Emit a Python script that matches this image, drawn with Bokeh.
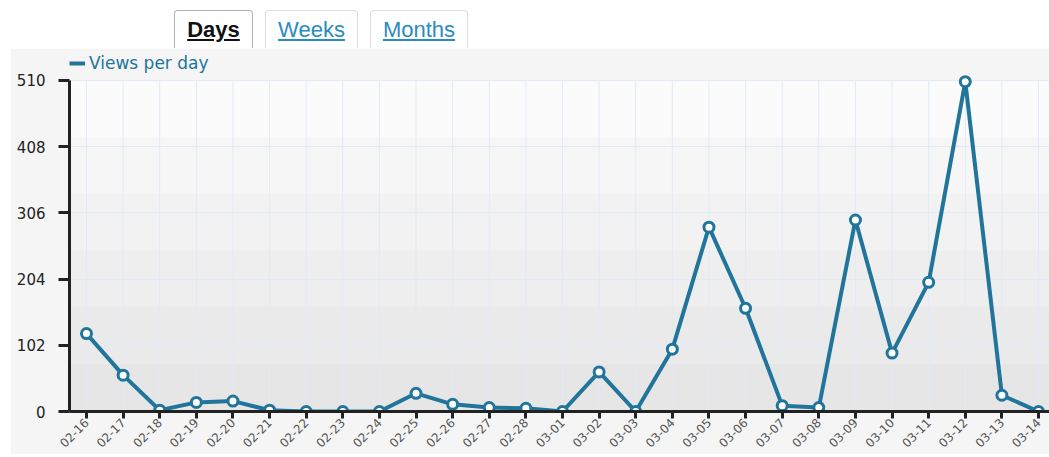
from bokeh.plotting import figure
from bokeh.layouts import column
from bokeh.models import (Div, Range1d, FixedTicker, BoxAnnotation, Legend, LegendItem,
                          ColumnDataSource)
from bokeh.embed import file_html
from bokeh.resources import INLINE
import math

# ---- data ----
dates = ["02-16", "02-17", "02-18", "02-19", "02-20", "02-21", "02-22", "02-23", "02-24",
         "02-25", "02-26", "02-27", "02-28", "03-01", "03-02", "03-03", "03-04", "03-05",
         "03-06", "03-07", "03-08", "03-09", "03-10", "03-11", "03-12", "03-13", "03-14"]
views = [120, 56, 2, 14, 16, 2, 0, 0, 0,
         28, 11, 6, 5, 0, 61, 0, 96, 284,
         159, 9, 6, 295, 90, 199, 508, 25, 0]
y_ticks = [0, 102, 204, 306, 408, 510]
series_name = "Views per day"
tabs = ["Days", "Weeks", "Months"]

BLUE = "#21759b"
PANEL = "#f5f5f5"
idx = list(range(len(dates)))
y_top = y_ticks[-1]
src = ColumnDataSource(dict(x=idx, y=views, d=dates))

# ---- tabs ----
tab_geo = [(174, 79), (265, 93), (370, 98)]
parts = []
for i, (name, (left, w)) in enumerate(zip(tabs, tab_geo)):
    active = i == 0
    parts.append(
        f'<div style="position:absolute;left:{left}px;top:10px;width:{w}px;height:38px;'
        f'box-sizing:border-box;border:1px solid {"#b0b0b0" if active else "#dedede"};'
        f'border-bottom:none;border-radius:4px 4px 0 0;background:#fff;text-align:center;'
        f'line-height:38px;font-size:22px;font-weight:{"bold" if active else "normal"};">'
        f'<span style="text-decoration:underline;color:{"#111" if active else "#2a8bbf"};">{name}</span></div>'
    )
tabs_div = Div(text='<div style="position:relative;width:1049px;height:48px;'
                    'font-family:\'Liberation Sans\',Arial,sans-serif;">' + "".join(parts) + '</div>',
               width=1049, height=48, margin=(0, 0, 0, 0))

# ---- figure ----
p = figure(width=1039, height=406, output_backend="svg", toolbar_location=None,
           x_range=Range1d(-0.464, 26.30), y_range=Range1d(0, 553),
           min_border_left=59, min_border_right=0, min_border_top=4, min_border_bottom=43,
           border_fill_color=PANEL, background_fill_color=PANEL, outline_line_color=None,
           margin=(0, 0, 0, 10))

# background bands (decoration) between 0 and the top tick
band_edges = [0, 74, 162, 248, 336, 422, y_top]
band_cols = ["#e6e6e6", "#eaeaea", "#eeeeee", "#f2f2f2", "#f6f6f6", "#fbfbfb"]
for b0, b1, c in zip(band_edges[:-1], band_edges[1:], band_cols):
    p.add_layout(BoxAnnotation(bottom=b0, top=b1, fill_color=c, fill_alpha=1,
                               line_color=None, level="image"))

# vertical grid lines, limited to the value range
p.segment(x0=idx, y0=[0] * len(idx), x1=idx, y1=[y_top] * len(idx),
          line_color="#e2eaf7", line_width=1, level="underlay")
p.xgrid.visible = False
p.ygrid.ticker = FixedTicker(ticks=y_ticks)
p.ygrid.grid_line_color = "#e2eaf7"

line_r = p.line("x", "y", source=src, line_color=BLUE, line_width=4)
p.scatter("x", "y", source=src, size=10, fill_color="white", line_color=BLUE, line_width=3)

# axes
p.xaxis.ticker = FixedTicker(ticks=idx)
p.xaxis.major_label_overrides = {i: d for i, d in enumerate(dates)}
p.xaxis.major_label_orientation = math.pi / 4
p.xaxis.major_label_text_font = "DejaVu Sans"
p.xaxis.major_label_text_font_size = "12px"
p.xaxis.major_label_text_color = "#555555"
p.xaxis.major_label_standoff = 2
p.xaxis.major_tick_out = 7
p.xaxis.major_tick_in = 0
p.xaxis.major_tick_line_width = 3
p.xaxis.major_tick_line_color = "#222222"
p.xaxis.axis_line_width = 3
p.xaxis.axis_line_color = "#222222"
p.xaxis.minor_tick_line_color = None

p.yaxis.ticker = FixedTicker(ticks=y_ticks)
p.yaxis.bounds = (0, y_top)
p.yaxis.major_label_text_font = "DejaVu Sans"
p.yaxis.major_label_text_font_size = "15px"
p.yaxis.major_label_text_color = "#222222"
p.yaxis.major_label_standoff = 13
p.yaxis.major_tick_out = 11
p.yaxis.major_tick_in = 0
p.yaxis.major_tick_line_width = 3
p.yaxis.major_tick_line_color = "#222222"
p.yaxis.axis_line_width = 3
p.yaxis.axis_line_color = "#222222"
p.yaxis.minor_tick_line_color = None

legend = Legend(items=[LegendItem(label=series_name, renderers=[line_r])],
                location="top_left", glyph_width=16, glyph_height=22, label_standoff=4,
                label_text_font="DejaVu Sans", label_text_font_size="17px",
                label_text_color=BLUE, background_fill_alpha=0, border_line_alpha=0,
                padding=0, margin=0, label_height=22)
p.add_layout(legend)

layout = column(tabs_div, p, spacing=0)
open("out.html", "w").write(file_html(layout, INLINE))
